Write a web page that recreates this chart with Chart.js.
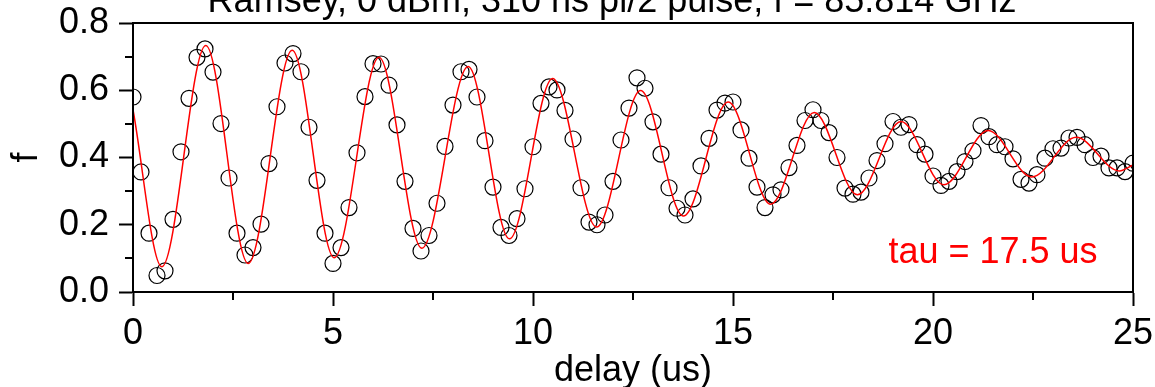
<!DOCTYPE html>
<html>
<head>
<meta charset="utf-8">
<script src="https://cdn.jsdelivr.net/npm/chart.js@4"></script>
<style>
  html, body { margin: 0; padding: 0; background: #fff; }
</style>
</head>
<body>
<canvas id="ramseyChart" width="1155" height="387"></canvas>
<script>
// measured Ramsey fringe: delay (us) and excited fraction f
const delays = [
  0.0, 0.2, 0.4, 0.6, 0.8, 1.0, 1.2, 1.4, 1.6, 1.8,
  2.0, 2.2, 2.4, 2.6, 2.8, 3.0, 3.2, 3.4, 3.6, 3.8,
  4.0, 4.2, 4.4, 4.6, 4.8, 5.0, 5.2, 5.4, 5.6, 5.8,
  6.0, 6.2, 6.4, 6.6, 6.8, 7.0, 7.2, 7.4, 7.6, 7.8,
  8.0, 8.2, 8.4, 8.6, 8.8, 9.0, 9.2, 9.4, 9.6, 9.8,
  10.0, 10.2, 10.4, 10.6, 10.8, 11.0, 11.2, 11.4, 11.6, 11.8,
  12.0, 12.2, 12.4, 12.6, 12.8, 13.0, 13.2, 13.4, 13.6, 13.8,
  14.0, 14.2, 14.4, 14.6, 14.8, 15.0, 15.2, 15.4, 15.6, 15.8,
  16.0, 16.2, 16.4, 16.6, 16.8, 17.0, 17.2, 17.4, 17.6, 17.8,
  18.0, 18.2, 18.4, 18.6, 18.8, 19.0, 19.2, 19.4, 19.6, 19.8,
  20.0, 20.2, 20.4, 20.6, 20.8, 21.0, 21.2, 21.4, 21.6, 21.8,
  22.0, 22.2, 22.4, 22.6, 22.8, 23.0, 23.2, 23.4, 23.6, 23.8,
  24.0, 24.2, 24.4, 24.6, 24.8, 25.0
];
const fraction = [
  0.580, 0.357, 0.175, 0.049, 0.063, 0.216, 0.417, 0.576, 0.698, 0.723,
  0.654, 0.501, 0.339, 0.175, 0.110, 0.132, 0.202, 0.382, 0.551, 0.681,
  0.709, 0.655, 0.490, 0.332, 0.175, 0.085, 0.132, 0.251, 0.414, 0.581,
  0.679, 0.678, 0.615, 0.497, 0.329, 0.189, 0.122, 0.168, 0.264, 0.433,
  0.556, 0.655, 0.662, 0.580, 0.450, 0.312, 0.192, 0.168, 0.218, 0.307,
  0.432, 0.561, 0.610, 0.601, 0.540, 0.455, 0.310, 0.208, 0.200, 0.229,
  0.329, 0.452, 0.547, 0.637, 0.606, 0.506, 0.410, 0.310, 0.249, 0.229,
  0.277, 0.375, 0.457, 0.541, 0.562, 0.565, 0.482, 0.398, 0.312, 0.251,
  0.289, 0.304, 0.370, 0.436, 0.510, 0.542, 0.510, 0.474, 0.400, 0.309,
  0.291, 0.297, 0.339, 0.391, 0.441, 0.507, 0.490, 0.498, 0.438, 0.410,
  0.345, 0.317, 0.329, 0.358, 0.388, 0.420, 0.495, 0.462, 0.438, 0.432,
  0.396, 0.335, 0.324, 0.349, 0.398, 0.426, 0.428, 0.458, 0.460, 0.438,
  0.400, 0.404, 0.369, 0.369, 0.358, 0.383
];

// damped fit: turning points of the red curve
const fitDelays = [
  0, 0.72, 1.82, 2.88, 3.98, 5.03, 6.15, 7.22, 8.38, 9.41, 10.49, 11.59,
  12.69, 13.76, 14.88, 15.94, 17.03, 18.11, 19.2, 20.27, 21.38, 22.47,
  23.58, 24.66, 25.0
];
const fitValues = [
  0.542, 0.075, 0.733, 0.085, 0.719, 0.102, 0.698, 0.130, 0.671, 0.158,
  0.635, 0.193, 0.599, 0.226, 0.565, 0.261, 0.534, 0.289, 0.507, 0.319,
  0.480, 0.342, 0.460, 0.360, 0.378
];

const yMinorTicks = [0.1, 0.3, 0.5, 0.7];
const xMinorTicks = [2.5, 7.5, 12.5, 17.5, 22.5];

const chartTitle = 'Ramsey, 0 dBm, 310 ns pi/2 pulse, f = 85.814 GHz';
const tauLabel = 'tau = 17.5 us';

const FONT = '"Liberation Sans", Arial, sans-serif';
const FS = 36;

Chart.defaults.font.family = FONT;
Chart.defaults.color = '#000';

// box around the plot, minor ticks, title and tau note
const framePlugin = {
  id: 'frame',
  afterDraw(chart) {
    const { ctx, chartArea: a, scales } = chart;
    ctx.save();
    ctx.strokeStyle = '#000';
    ctx.lineWidth = 2;
    ctx.strokeRect(a.left, a.top, a.right - a.left, a.bottom - a.top);

    ctx.beginPath();
    yMinorTicks.forEach(v => {
      const py = Math.round(scales.y.getPixelForValue(v));
      ctx.moveTo(a.left - 8, py);
      ctx.lineTo(a.left, py);
    });
    xMinorTicks.forEach(v => {
      const px = Math.round(scales.x.getPixelForValue(v));
      ctx.moveTo(px, a.bottom);
      ctx.lineTo(px, a.bottom + 8);
    });
    ctx.stroke();

    ctx.font = FS + 'px ' + FONT;
    ctx.textAlign = 'center';
    ctx.textBaseline = 'alphabetic';
    ctx.fillStyle = '#000';
    ctx.fillText(chartTitle, 612, 12);

    ctx.fillStyle = '#ff0000';
    ctx.fillText(tauLabel, scales.x.getPixelForValue(21.5), scales.y.getPixelForValue(0.086));
    ctx.restore();
  }
};

const ctx = document.getElementById('ramseyChart').getContext('2d');
new Chart(ctx, {
  type: 'scatter',
  data: {
    datasets: [
      {
        type: 'line',
        data: fitDelays.map((d, i) => ({ x: d, y: fitValues[i] })),
        borderColor: '#ff0000',
        borderWidth: 1.5,
        pointRadius: 0,
        cubicInterpolationMode: 'monotone',
        fill: false
      },
      {
        type: 'scatter',
        data: delays.map((d, i) => ({ x: d, y: fraction[i] })),
        pointStyle: 'circle',
        pointRadius: 8,
        borderColor: '#000',
        borderWidth: 1.2,
        backgroundColor: 'rgba(0,0,0,0)'
      }
    ]
  },
  options: {
    responsive: false,
    devicePixelRatio: 1,
    animation: false,
    layout: { padding: { top: 23, right: 22, left: 0, bottom: 0 } },
    plugins: {
      legend: { display: false },
      tooltip: { enabled: false }
    },
    scales: {
      x: {
        type: 'linear',
        min: 0,
        max: 25,
        afterFit(scale) {
          scale.height = 95;
          scale.paddingLeft = 0;
          scale.paddingRight = 0;
        },
        border: { display: true, color: '#000', width: 2 },
        grid: { drawOnChartArea: false, drawTicks: true, tickLength: 14, tickColor: '#000', tickWidth: 2 },
        ticks: { stepSize: 5, padding: 6, color: '#000', font: { size: FS }, maxRotation: 0 },
        title: { display: true, text: 'delay (us)', color: '#000', font: { size: FS }, padding: { top: 0, bottom: -6 } }
      },
      y: {
        min: 0,
        max: 0.8,
        afterFit(scale) {
          scale.width = 133;
          scale.paddingTop = 0;
          scale.paddingBottom = 0;
        },
        border: { display: true, color: '#000', width: 2 },
        grid: { drawOnChartArea: false, drawTicks: true, tickLength: 14, tickColor: '#000', tickWidth: 2 },
        ticks: { stepSize: 0.2, padding: 10, color: '#000', font: { size: FS }, callback: v => v.toFixed(1) },
        title: { display: true, text: 'f', color: '#000', font: { size: FS }, padding: { top: 5, bottom: 0 } }
      }
    }
  },
  plugins: [framePlugin]
});
</script>
</body>
</html>
